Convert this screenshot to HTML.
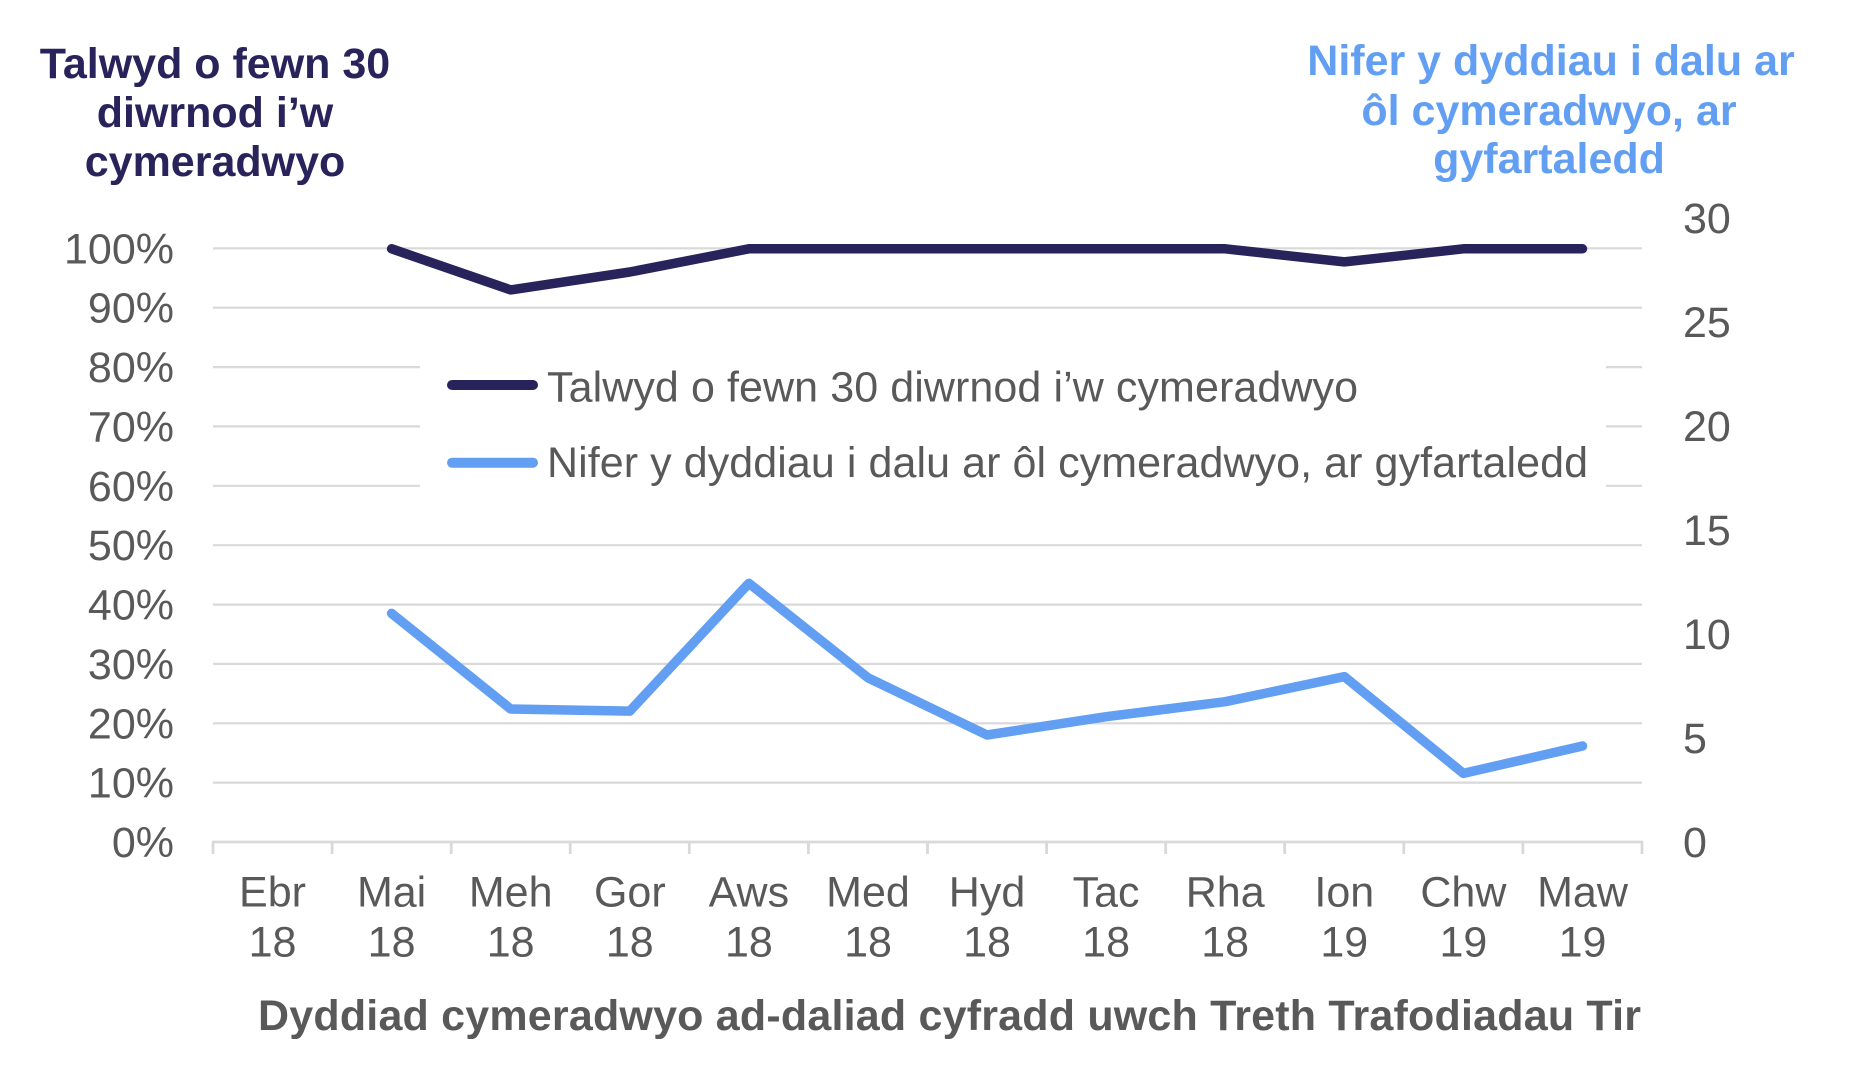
<!DOCTYPE html>
<html>
<head>
<meta charset="utf-8">
<style>
html,body{margin:0;padding:0;background:#fff;}
svg{display:block;}
text{font-family:"Liberation Sans",Arial,sans-serif;}
</style>
</head>
<body>
<svg width="1867" height="1083" viewBox="0 0 1867 1083" xmlns="http://www.w3.org/2000/svg">
<rect x="0" y="0" width="1867" height="1083" fill="#ffffff"/>

<!-- Axis titles -->
<g font-weight="bold" font-size="43" text-anchor="middle" fill="#29235C">
  <text x="215" y="78">Talwyd o fewn 30</text>
  <text x="215" y="127">diwrnod i’w</text>
  <text x="215" y="176">cymeradwyo</text>
</g>
<g font-weight="bold" font-size="43" text-anchor="middle" fill="#629FF3">
  <text x="1551" y="75">Nifer y dyddiau i dalu ar</text>
  <text x="1549" y="125">ôl cymeradwyo, ar</text>
  <text x="1549" y="173">gyfartaledd</text>
</g>

<!-- Gridlines -->
<g stroke="#D9D9D9" stroke-width="2.2">
  <line x1="213" y1="248.3" x2="1642" y2="248.3"/>
  <line x1="213" y1="307.7" x2="1642" y2="307.7"/>
  <line x1="213" y1="367.1" x2="1642" y2="367.1"/>
  <line x1="213" y1="426.4" x2="1642" y2="426.4"/>
  <line x1="213" y1="485.8" x2="1642" y2="485.8"/>
  <line x1="213" y1="545.2" x2="1642" y2="545.2"/>
  <line x1="213" y1="604.6" x2="1642" y2="604.6"/>
  <line x1="213" y1="663.9" x2="1642" y2="663.9"/>
  <line x1="213" y1="723.3" x2="1642" y2="723.3"/>
  <line x1="213" y1="782.6" x2="1642" y2="782.6"/>
</g>
<!-- x axis line and ticks -->
<g stroke="#D9D9D9" stroke-width="2.8">
  <line x1="212" y1="842" x2="1643" y2="842"/>
  <line x1="213" y1="842" x2="213" y2="854"/>
  <line x1="332.1" y1="842" x2="332.1" y2="854"/>
  <line x1="451.2" y1="842" x2="451.2" y2="854"/>
  <line x1="570.2" y1="842" x2="570.2" y2="854"/>
  <line x1="689.3" y1="842" x2="689.3" y2="854"/>
  <line x1="808.4" y1="842" x2="808.4" y2="854"/>
  <line x1="927.5" y1="842" x2="927.5" y2="854"/>
  <line x1="1046.6" y1="842" x2="1046.6" y2="854"/>
  <line x1="1165.7" y1="842" x2="1165.7" y2="854"/>
  <line x1="1284.7" y1="842" x2="1284.7" y2="854"/>
  <line x1="1403.8" y1="842" x2="1403.8" y2="854"/>
  <line x1="1522.9" y1="842" x2="1522.9" y2="854"/>
  <line x1="1642" y1="842" x2="1642" y2="854"/>
</g>

<!-- Left axis labels -->
<g font-size="43" fill="#595959" text-anchor="end">
  <text x="174" y="263.3">100%</text>
  <text x="174" y="322.7">90%</text>
  <text x="174" y="382.1">80%</text>
  <text x="174" y="441.4">70%</text>
  <text x="174" y="500.8">60%</text>
  <text x="174" y="560.2">50%</text>
  <text x="174" y="619.6">40%</text>
  <text x="174" y="678.9">30%</text>
  <text x="174" y="738.3">20%</text>
  <text x="174" y="797.6">10%</text>
  <text x="174" y="857">0%</text>
</g>
<!-- Right axis labels -->
<g font-size="43" fill="#595959" text-anchor="start">
  <text x="1683" y="233">30</text>
  <text x="1683" y="337">25</text>
  <text x="1683" y="441">20</text>
  <text x="1683" y="545">15</text>
  <text x="1683" y="649">10</text>
  <text x="1683" y="753">5</text>
  <text x="1683" y="857">0</text>
</g>

<!-- X axis labels -->
<g font-size="43" fill="#595959" text-anchor="middle">
  <text x="272.5" y="906.7">Ebr</text><text x="272.5" y="956.7">18</text>
  <text x="391.6" y="906.7">Mai</text><text x="391.6" y="956.7">18</text>
  <text x="510.7" y="906.7">Meh</text><text x="510.7" y="956.7">18</text>
  <text x="629.8" y="906.7">Gor</text><text x="629.8" y="956.7">18</text>
  <text x="748.9" y="906.7">Aws</text><text x="748.9" y="956.7">18</text>
  <text x="868.0" y="906.7">Med</text><text x="868.0" y="956.7">18</text>
  <text x="987.0" y="906.7">Hyd</text><text x="987.0" y="956.7">18</text>
  <text x="1106.1" y="906.7">Tac</text><text x="1106.1" y="956.7">18</text>
  <text x="1225.2" y="906.7">Rha</text><text x="1225.2" y="956.7">18</text>
  <text x="1344.3" y="906.7">Ion</text><text x="1344.3" y="956.7">19</text>
  <text x="1463.4" y="906.7">Chw</text><text x="1463.4" y="956.7">19</text>
  <text x="1582.5" y="906.7">Maw</text><text x="1582.5" y="956.7">19</text>
</g>

<!-- X axis title -->
<text x="949.5" y="1030" font-size="43" font-weight="bold" fill="#595959" text-anchor="middle" textLength="1383" lengthAdjust="spacing">Dyddiad cymeradwyo ad-daliad cyfradd uwch Treth Trafodiadau Tir</text>

<!-- Legend box -->
<rect x="420" y="330" width="1186" height="185" fill="#ffffff"/>
<line x1="452" y1="385" x2="533" y2="385" stroke="#29235C" stroke-width="10" stroke-linecap="round"/>
<line x1="452" y1="462.7" x2="533" y2="462.7" stroke="#629FF3" stroke-width="10" stroke-linecap="round"/>
<g font-size="43" fill="#595959">
  <text x="547" y="401.7" textLength="811" lengthAdjust="spacing">Talwyd o fewn 30 diwrnod i’w cymeradwyo</text>
  <text x="547" y="477" textLength="1041" lengthAdjust="spacing">Nifer y dyddiau i dalu ar ôl cymeradwyo, ar gyfartaledd</text>
</g>

<!-- Series: dark navy (primary %) -->
<polyline fill="none" stroke="#29235C" stroke-width="9.5" stroke-linecap="round" stroke-linejoin="round"
  points="391.6,248.8 510.7,289.9 629.8,272.0 748.9,248.8 868.0,248.8 987.0,248.8 1106.1,248.8 1225.2,248.8 1344.3,261.9 1463.4,248.8 1582.5,248.8"/>

<!-- Series: light blue (secondary days) -->
<polyline fill="none" stroke="#629FF3" stroke-width="9.5" stroke-linecap="round" stroke-linejoin="round"
  points="391.6,613.4 510.7,709.0 629.8,711.1 748.9,583.3 868.0,677.8 987.0,735.0 1106.1,716.7 1225.2,701.7 1344.3,676.6 1463.4,773.4 1582.5,746.0"/>
</svg>
</body>
</html>
